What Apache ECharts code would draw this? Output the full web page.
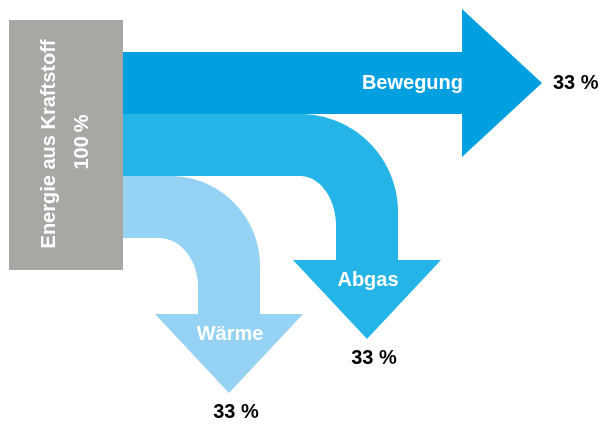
<!DOCTYPE html>
<html>
<head>
<meta charset="utf-8">
<script src="https://cdn.jsdelivr.net/npm/echarts@6/dist/echarts.min.js"></script>
<style>html,body{margin:0;padding:0;background:#fff}#c{width:605px;height:425px}</style>
</head>
<body>
<div id="c"></div>
<script>
// ---- data ----
const sourceName = 'Energie aus Kraftstoff';
const sourceValue = 100;
const categories = ['Bewegung', 'Abgas', 'Wärme'];
const values = [33, 33, 33];
const valueLabels = values.map(v => v + ' %');
const colors = ['#00a0e0', '#24b4e8', '#95d2f3'];

// ---- layout (pixels in axis units) ----
const K = 62 / 33;           // band thickness per percent
const BOX = { x0: 9, x1: 123, y0: 20, y1: 270 };
const BAND_TOP = 52;
const HEAD_EXTRA = 43, HEAD_LEN = 79;
const FLOW_LAYOUT = [
  { type: 'right', shaftEnd: 462 },
  { type: 'down', outerX: 398, R: 98, rx: 36, ry: 50, headY: 260 },
  { type: 'down', outerX: 260, R: 90, rx: 39, ry: 49, headY: 314 }
];
const FONT = 'bold 20px "Liberation Sans", Arial, sans-serif';

const chart = echarts.init(document.getElementById('c'), null, { renderer: 'canvas' });

function arc(cx, cy, rx, ry, a0, a1, n) {
  const pts = [];
  for (let i = 0; i <= n; i++) {
    const a = a0 + (a1 - a0) * i / n;
    pts.push([cx + rx * Math.cos(a), cy + ry * Math.sin(a)]);
  }
  return pts;
}

function renderFlow(params, api) {
  const i = params.dataIndex;
  const v = api.value(1);
  const t = v * K;
  let top = BAND_TOP;
  for (let j = 0; j < i; j++) top += values[j] * K;
  const L = FLOW_LAYOUT[i];
  const x0 = BOX.x1;
  let pts = [], labelPos, valuePos, labelAlign = 'center', valueAlign = 'center';
  if (L.type === 'right') {
    const cy = top + t / 2;
    const half = t / 2 + HEAD_EXTRA;
    pts = [[x0, top], [L.shaftEnd, top], [L.shaftEnd, cy - half], [L.shaftEnd + HEAD_LEN + 1, cy],
           [L.shaftEnd, cy + half], [L.shaftEnd, top + t], [x0, top + t]];
    labelPos = [L.shaftEnd + 1, cy]; labelAlign = 'right';
    valuePos = [L.shaftEnd + HEAD_LEN + 12, cy]; valueAlign = 'left';
  } else {
    const cx = L.outerX - L.R, cyc = top + L.R;
    const innerX = L.outerX - t;
    const icx = innerX - L.rx, icy = top + t + L.ry;
    const midX = L.outerX - t / 2;
    pts.push([x0, top]);
    pts = pts.concat(arc(cx, cyc, L.R, L.R, -Math.PI / 2, 0, 48));
    pts.push([L.outerX, L.headY], [L.outerX + HEAD_EXTRA, L.headY], [midX, L.headY + HEAD_LEN],
             [innerX - HEAD_EXTRA, L.headY], [innerX, L.headY]);
    pts = pts.concat(arc(icx, icy, L.rx, L.ry, 0, -Math.PI / 2, 36));
    pts.push([x0, top + t]);
    labelPos = [midX + 1, L.headY + 20];
    valuePos = [midX + 7, L.headY + HEAD_LEN + 19];
  }
  const p = pts.map(q => api.coord(q));
  const lp = api.coord(labelPos), vp = api.coord(valuePos);
  return {
    type: 'group',
    children: [
      { type: 'polygon', shape: { points: p }, style: { fill: colors[i] } },
      { type: 'text', style: { text: categories[i], x: lp[0], y: lp[1], fill: '#fff', font: FONT, align: labelAlign, verticalAlign: 'middle' } },
      { type: 'text', style: { text: valueLabels[i], x: vp[0], y: vp[1], fill: '#000', font: FONT, align: valueAlign, verticalAlign: 'middle' } }
    ]
  };
}

function renderSource(params, api) {
  const a = api.coord([BOX.x0, BOX.y0]);
  const b = api.coord([BOX.x1, BOX.y1]);
  const cyMid = (a[1] + b[1]) / 2 - 1;
  return {
    type: 'group',
    children: [
      { type: 'rect', shape: { x: a[0], y: a[1], width: b[0] - a[0], height: b[1] - a[1] }, style: { fill: '#a8a7a3' } },
      { type: 'text', x: a[0] + 40, y: cyMid, rotation: Math.PI / 2,
        style: { text: sourceName, x: 0, y: 0, fill: '#fff', font: FONT, align: 'center', verticalAlign: 'middle' } },
      { type: 'text', x: a[0] + 73, y: cyMid - 2, rotation: Math.PI / 2,
        style: { text: api.value(0) + '\u2009%', x: 0, y: 0, fill: '#fff', font: FONT, align: 'center', verticalAlign: 'middle' } }
    ]
  };
}

chart.setOption({
  animation: false,
  grid: { left: 0, right: 0, top: 0, bottom: 0 },
  xAxis: { type: 'value', min: 0, max: 605, show: false },
  yAxis: { type: 'value', min: 0, max: 425, inverse: true, show: false },
  series: [
    { type: 'custom', renderItem: renderFlow, data: values.map((v, i) => [i, v]), silent: true },
    { type: 'custom', renderItem: renderSource, data: [[sourceValue]], silent: true }
  ]
});
</script>
</body>
</html>
